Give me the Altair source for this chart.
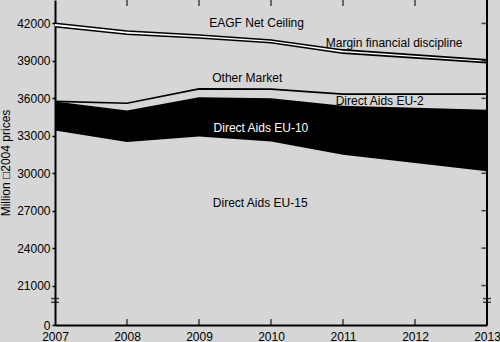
import altair as alt
import pandas as pd

years = [2007, 2008, 2009, 2010, 2011, 2012, 2013]
eu15_top = [33420, 32500, 32940, 32540, 31480, 30820, 30150]
eu10_top = [35740, 35020, 36090, 36010, 35400, 35240, 35080]
eu2_top = [35760, 35610, 36760, 36740, 36340, 36340, 36340]
market_top = [41740, 41140, 40840, 40460, 39620, 39240, 38860]
ceiling = [42020, 41400, 41080, 40680, 39880, 39480, 39080]

y_ticks = [17840, 21000, 24000, 27000, 30000, 33000, 36000, 39000, 42000]
y_min, y_max = 17840, 43880
break_vals = [19960, 19660]

labels = ["EAGF Net Ceiling", "Margin financial discipline", "Other Market",
          "Direct Aids EU-2", "Direct Aids EU-10", "Direct Aids EU-15"]
label_x = [2009.8, 2011.71, 2009.67, 2011.51, 2009.86, 2009.85]
label_y = [42050, 40460, 37660, 35820, 33615, 27640]
label_col = ["black", "black", "black", "black", "white", "black"]

BG = "#d6d6d6"
FONT = "Liberation Sans"

df = pd.DataFrame({"year": years, "eu15": eu15_top, "eu10": eu10_top,
                   "eu2": eu2_top, "market": market_top, "ceiling": ceiling})
lab = pd.DataFrame({"x": label_x, "y": label_y, "t": labels, "c": label_col})

xs = alt.Scale(domain=[2007, 2013], nice=False, zero=False)
ys = alt.Scale(domain=[y_min, y_max], nice=False, zero=False)

xenc = alt.X("year:Q", scale=xs,
             axis=alt.Axis(values=years, format="d", title=None, grid=False,
                           ticks=False, domainColor="black", domainWidth=2,
                           labelFontSize=12, labelColor="black", labelFont=FONT,
                           labelPadding=6, labelFlush=False))

base = alt.Chart(df)

black_band = base.mark_area(color="black", opacity=1).encode(
    x=xenc,
    y=alt.Y("eu15:Q", scale=ys,
            axis=alt.Axis(values=y_ticks, title="Million \u25a12004 prices",
                          labelExpr="datum.value < 20000 ? '0' : format(datum.value, 'd')",
                          grid=False, tickSize=3, tickColor="black", tickWidth=1.5,
                          domainColor="black", domainWidth=2, labelFontSize=12,
                          labelColor="black", labelFont=FONT, labelPadding=2,
                          titleFont=FONT, titleFontSize=12, titleFontWeight="normal",
                          titleColor="black", titlePadding=4)),
    y2="eu10:Q")

white_band = base.mark_area(color="white", opacity=1).encode(
    x="year:Q", y=alt.Y("market:Q", scale=ys), y2="ceiling:Q")

lines = []
for col in ["eu2", "market", "ceiling"]:
    lines.append(base.mark_line(color="black", strokeWidth=1.6).encode(
        x="year:Q", y=alt.Y(f"{col}:Q", scale=ys)))

right_axis = alt.Chart(pd.DataFrame({"x": [2013], "a": [y_min], "b": [y_max]})).mark_rule(
    color="black", strokeWidth=2).encode(x="x:Q", y=alt.Y("a:Q", scale=ys), y2="b:Q")

inner_years = years[1:-1]
bt = alt.Chart(pd.DataFrame({"x": inner_years, "y": [y_min] * len(inner_years)})).mark_tick(
    color="black", thickness=1.5, size=6, orient="vertical", yOffset=-3).encode(
    x="x:Q", y=alt.Y("y:Q", scale=ys))
tt = alt.Chart(pd.DataFrame({"x": inner_years, "y": [y_max] * len(inner_years)})).mark_tick(
    color="black", thickness=1.5, size=6, orient="vertical", yOffset=3).encode(
    x="x:Q", y=alt.Y("y:Q", scale=ys))
rt = alt.Chart(pd.DataFrame({"x": [2013] * (len(y_ticks) - 1), "y": y_ticks[1:]})).mark_tick(
    color="black", thickness=1.5, size=5, orient="horizontal", xOffset=-3).encode(
    x="x:Q", y=alt.Y("y:Q", scale=ys))

brk = alt.Chart(pd.DataFrame({"x": [2007, 2007, 2013, 2013],
                              "y": break_vals + break_vals})).mark_tick(
    color="black", thickness=1.5, size=8, orient="horizontal").encode(
    x="x:Q", y=alt.Y("y:Q", scale=ys))

texts = alt.Chart(lab).mark_text(font=FONT, fontSize=12, align="center",
                                 baseline="middle").encode(
    x="x:Q", y=alt.Y("y:Q", scale=ys), text="t:N",
    color=alt.Color("c:N", scale=None))

chart = alt.layer(black_band, white_band, *lines, right_axis, bt, tt, rt, brk, texts).properties(
    width=432, height=325,
    autosize=alt.AutoSizeParams(type="none"),
    padding={"left": 55, "top": 0, "right": 13, "bottom": 17},
    background=BG,
).configure_view(fill=BG, stroke=None)

chart.save("out.html", embed_options={"renderer": "svg", "actions": False})
